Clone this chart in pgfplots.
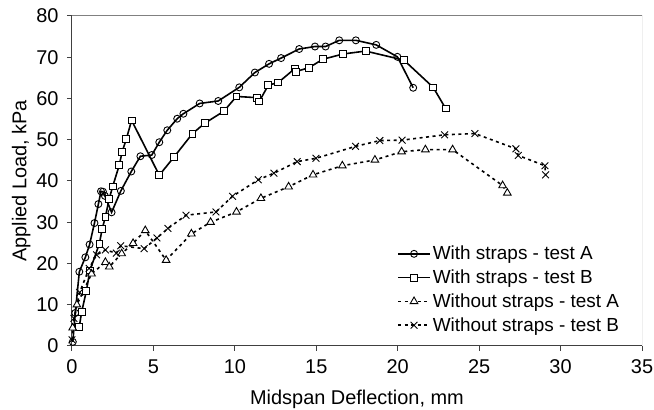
\documentclass[border=0pt]{standalone}
\usepackage{fontspec}
\setmainfont{Liberation Sans}
\usepackage{pgfplots}
\pgfplotsset{compat=1.18}
\begin{document}
\begin{tikzpicture}
\begin{axis}[
  scale only axis, width=570bp, height=330bp,
  xmin=0, xmax=35, ymin=0, ymax=80,
  xtick={0,5,...,35}, ytick={0,10,...,80},
  axis lines=left, axis line style={-, line width=1bp, black!75},
  tick align=outside, major tick length=5bp,
  tick style={black!75, line width=1bp},
  /pgf/number format/assume math mode=true,
  ticklabel style={font=\fontsize{20}{22}\selectfont},
  xticklabel style={yshift=-5bp},
  yticklabel style={xshift=-5bp},
  xlabel={Midspan Deflection, mm},
  ylabel={Applied Load, kPa},
  label style={font=\fontsize{20}{22}\selectfont},
  xlabel style={at={(axis description cs:0.5,0)}, anchor=north, yshift=-41bp},
  ylabel style={at={(axis description cs:-0.0667,0.5)}, anchor=south},
  legend style={at={(rel axis cs:0.565,0.315)}, anchor=north west, draw=none, fill=none,
    font=\fontsize{19}{21}\selectfont, row sep=4.6bp},
  legend cell align=left,
  legend image code/.code={\draw[mark repeat=2,mark phase=2,#1] plot coordinates {(0bp,0bp) (16bp,0bp) (32bp,0bp)};},
]
\addplot[black, line width=1.6bp, mark=o, mark size=3.5bp, mark options={fill=white, line width=0.9bp}] coordinates {
(0.05,1) (0.2,8) (0.45,18) (0.82,21.5) (1.08,24.6) (1.38,29.8) (1.62,34.4) (1.78,37.5) (1.9,37.4) (2.02,36.4)
(2.43,32.4) (3.0,37.6) (3.64,42.3) (4.2,46) (4.9,46.3) (5.36,49.4) (5.85,52.3) (6.46,55.1) (6.84,56.3) (7.84,58.8)
(8.98,59.4) (10.27,62.7) (11.23,66.3) (12.1,68.4) (12.84,69.8) (13.95,72) (14.92,72.6) (15.57,72.6) (16.41,74.1)
(17.43,74.1) (18.68,73) (19.98,70.1) (20.95,62.6)};
\addlegendentry{With straps - test A}
\addplot[black, line width=1.6bp, mark=square*, mark size=3.4bp, mark options={fill=white, line width=0.9bp}] coordinates {
(0.45,4.7) (0.59,8.2) (0.88,13.3) (1.1,18.3) (1.68,24.8) (1.85,28.3) (2.05,31.3) (2.28,35.6) (2.5,38.7) (2.9,43.8)
(3.08,47.1) (3.33,50.1) (3.66,54.7) (5.36,41.4) (6.26,45.8) (7.4,51.5) (8.15,54) (9.32,56.9) (10.1,60.5) (11.34,60.2)
(11.5,59.3) (12.05,63.2) (12.67,63.9) (13.7,67.3) (13.73,66.5) (14.57,67.5) (15.39,69.5) (16.66,70.8) (18.03,71.5)
(20.38,69.3) (22.18,62.7) (22.94,57.6)};
\addlegendentry{With straps - test B}
\addplot[black, line width=1.6bp, dash pattern=on 3bp off 3.5bp, mark=triangle*, mark size=4.4bp, mark options={solid, fill=white, line width=0.9bp}] coordinates {
(0.04,4.4) (0.3,10) (1.2,17.5) (2.05,20.3) (2.29,19.2) (3.05,22.4) (3.75,24.9) (4.5,28) (5.78,20.8) (7.33,27.2)
(8.51,30) (10.1,32.5) (11.6,35.8) (13.3,38.6) (14.8,41.5) (16.6,43.7) (18.6,45.1) (20.24,47.1) (21.7,47.6)
(23.37,47.6) (26.44,38.9) (26.73,37.1)};
\addlegendentry{Without straps - test A}
\addplot[black, line width=1.6bp, dash pattern=on 3bp off 3.5bp, mark=x, mark size=4.8bp, mark options={solid, line width=0.9bp}] coordinates {
(0,1.5) (0.12,6.7) (0.47,13) (1.05,18.8) (1.51,22.1) (2.05,23.3) (2.72,22.5) (2.99,24.3) (4.43,23.6) (5.22,26.2)
(5.89,28.5) (7.0,31.7) (8.84,32.5) (9.86,36.3) (11.44,40.3) (12.4,41.9) (13.83,44.7) (14.98,45.5) (17.41,48.4)
(18.9,49.8) (20.27,49.9) (22.88,51.2) (24.74,51.5) (27.26,47.8) (27.4,46.2) (29.04,43.7) (29.08,41.5)};
\addlegendentry{Without straps - test B}
\draw[black!50, line width=1bp] (rel axis cs:0,1) -- (rel axis cs:1,1) -- (rel axis cs:1,0);
\end{axis}
\pgfresetboundingbox
\useasboundingbox ([xshift=-72bp,yshift=-64bp]current axis.south west) rectangle ([xshift=12bp,yshift=16bp]current axis.north east);
\end{tikzpicture}
\end{document}
